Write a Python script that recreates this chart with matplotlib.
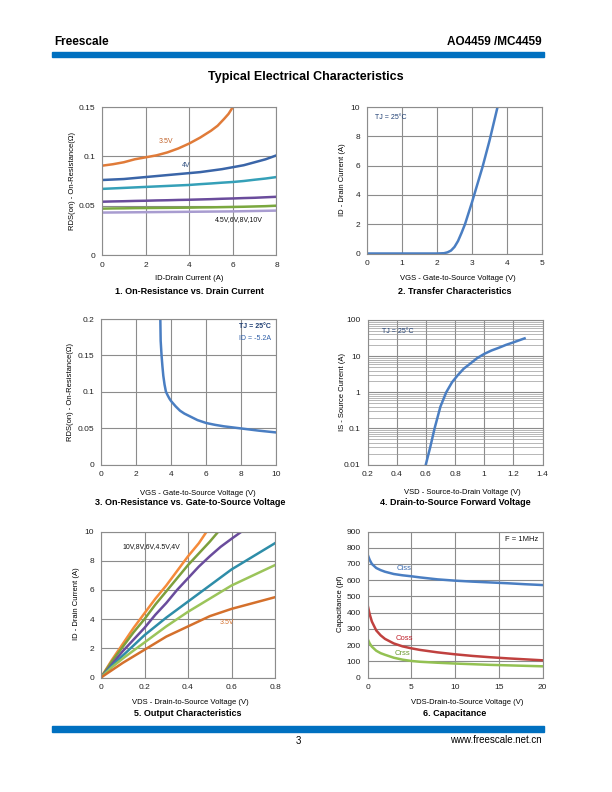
import matplotlib
matplotlib.use('Agg')
import matplotlib.pyplot as plt
from matplotlib.ticker import FuncFormatter, LogLocator, NullFormatter

plt.rcParams['font.family'] = ['Liberation Sans', 'DejaVu Sans']

W, H = 612, 792

# 1. On-resistance vs drain current
id_a = [0, 0.5, 1, 1.5, 2, 2.5, 3, 3.5, 4, 4.5, 5, 5.5, 6, 6.5, 7, 7.5, 8]
rds_35v_x = [0, 0.5, 1, 1.5, 2, 2.5, 3, 3.5, 4, 4.5, 5, 5.3, 5.6, 5.8, 6.0]
rds_35v = [0.0905, 0.092, 0.094, 0.097, 0.099, 0.101, 0.104, 0.108, 0.113, 0.119, 0.126,
           0.131, 0.138, 0.143, 0.150]
rds_4v = [0.076, 0.0765, 0.077, 0.078, 0.079, 0.080, 0.081, 0.082, 0.083, 0.084, 0.0855,
          0.087, 0.089, 0.091, 0.094, 0.097, 0.101]
rds_45v = [0.067, 0.0675, 0.068, 0.0685, 0.069, 0.0695, 0.070, 0.0705, 0.071, 0.0718, 0.0725,
           0.0733, 0.074, 0.075, 0.0763, 0.0775, 0.079]
rds_6v = [0.054, 0.0543, 0.0545, 0.0548, 0.055, 0.0553, 0.0555, 0.0558, 0.056, 0.0563, 0.0566,
          0.057, 0.0573, 0.0577, 0.058, 0.0585, 0.059]
rds_8v = [0.047, 0.0472, 0.0473, 0.0475, 0.0476, 0.0477, 0.0478, 0.0479, 0.048, 0.0482, 0.0483,
          0.0485, 0.0487, 0.0489, 0.0492, 0.0495, 0.050]
rds_10v = [0.043, 0.0431, 0.0432, 0.0433, 0.0434, 0.0435, 0.0436, 0.0437, 0.0438, 0.0439, 0.044,
           0.0441, 0.0442, 0.0444, 0.0446, 0.0448, 0.045]

# 2. Transfer characteristics
vgs_t = [0, 1, 2, 2.2, 2.3, 2.4, 2.5, 2.6, 2.7, 2.8, 2.9, 3.0, 3.1, 3.2, 3.3, 3.4, 3.5, 3.6, 3.73]
id_t = [0, 0, 0, 0.02, 0.08, 0.2, 0.45, 0.85, 1.4, 2.0, 2.75, 3.5, 4.3, 5.1, 5.9, 6.8, 7.7, 8.7, 10]

# 3. On-resistance vs gate-source voltage
vgs_r = [3.38, 3.4, 3.45, 3.5, 3.55, 3.62, 3.7, 3.8, 3.9, 4.0, 4.25, 4.5, 4.75, 5.0, 5.5, 6.0,
         6.5, 7.0, 8.0, 9.0, 10.0]
rds_r = [0.2, 0.17, 0.15, 0.135, 0.122, 0.11, 0.1, 0.095, 0.0905, 0.087, 0.08, 0.074, 0.070,
         0.067, 0.061, 0.057, 0.0545, 0.0525, 0.0495, 0.0465, 0.044]

# 4. Body diode forward voltage
vsd = [0.6, 0.63, 0.66, 0.7, 0.74, 0.78, 0.82, 0.86, 0.9, 0.95, 1.0, 1.05, 1.1, 1.15, 1.2, 1.277]
i_s = [0.01, 0.03, 0.1, 0.4, 1.0, 1.9, 3.0, 4.5, 6.0, 8.7, 11.5, 14.3, 17.0, 20.5, 24.0, 31.0]

# 5. Output characteristics
out_curves = [
    ('10V', [0, 0.05, 0.1, 0.15, 0.2, 0.25, 0.3, 0.35, 0.4, 0.45, 0.486],
     [0, 1.2, 2.3, 3.4, 4.4, 5.4, 6.3, 7.3, 8.3, 9.2, 10]),
    ('8V', [0, 0.05, 0.1, 0.15, 0.2, 0.25, 0.3, 0.35, 0.4, 0.45, 0.5, 0.54],
     [0, 1.1, 2.1, 3.1, 4.0, 5.0, 5.9, 6.8, 7.7, 8.5, 9.3, 10]),
    ('6V', [0, 0.05, 0.1, 0.15, 0.2, 0.25, 0.3, 0.35, 0.4, 0.45, 0.5, 0.55, 0.6, 0.647],
     [0, 0.9, 1.8, 2.6, 3.4, 4.3, 5.1, 6.0, 6.8, 7.6, 8.3, 8.95, 9.5, 10]),
    ('4.5V', [0, 0.05, 0.1, 0.15, 0.2, 0.25, 0.3, 0.35, 0.4, 0.45, 0.5, 0.55, 0.6, 0.65, 0.7, 0.75, 0.8],
     [0, 0.8, 1.5, 2.2, 2.9, 3.5, 4.1, 4.65, 5.2, 5.75, 6.3, 6.85, 7.4, 7.85, 8.3, 8.75, 9.2]),
    ('4V', [0, 0.05, 0.1, 0.15, 0.2, 0.25, 0.3, 0.35, 0.4, 0.45, 0.5, 0.55, 0.6, 0.65, 0.7, 0.75, 0.8],
     [0, 0.7, 1.3, 1.85, 2.4, 2.95, 3.5, 4.0, 4.5, 4.95, 5.4, 5.85, 6.3, 6.65, 7.0, 7.35, 7.7]),
    ('3.5V', [0, 0.05, 0.1, 0.15, 0.2, 0.25, 0.3, 0.35, 0.4, 0.45, 0.5, 0.55, 0.6, 0.65, 0.7, 0.75, 0.8],
     [0, 0.5, 1.0, 1.45, 1.9, 2.35, 2.8, 3.15, 3.5, 3.85, 4.2, 4.45, 4.7, 4.9, 5.1, 5.3, 5.5]),
]

# 6. Capacitance
vds_c = [0, 0.25, 0.5, 1, 1.5, 2, 3, 4, 5, 6, 8, 10, 12, 14, 16, 18, 20]
ciss = [760, 725, 700, 675, 662, 652, 638, 630, 624, 617, 605, 597, 591, 586, 581, 575, 570]
coss = [450, 390, 345, 290, 260, 238, 210, 192, 180, 170, 155, 143, 133, 125, 118, 112, 106]
crss = [240, 210, 190, 165, 150, 140, 122, 110, 102, 97, 91, 86, 82, 78, 75, 72, 69]

BLUE = '#4a7ec2'
NAVY = '#1f3f73'


def px_axes(fig, l, t, r, b):
    return fig.add_axes([l / W, 1 - b / H, (r - l) / W, (b - t) / H])


def style(ax):
    ax.grid(True, color='#8c8c8c', lw=0.8)
    ax.set_axisbelow(True)
    for s in ax.spines.values():
        s.set_color('#8c8c8c')
        s.set_linewidth(0.8)
    ax.tick_params(length=0, labelsize=6, pad=5, colors='#222222')


def ftext(fig, x, y, s, **kw):
    fig.text(x / W, 1 - y / H, s, ha='center', va='center', **kw)


fig = plt.figure(figsize=(W / 100, H / 100), dpi=100)

# header / footer
fig.patches.append(plt.Rectangle((52 / W, 1 - 56.5 / H), 492 / W, 5 / H,
                                 transform=fig.transFigure, color='#0070c0'))
fig.patches.append(plt.Rectangle((52 / W, 1 - 731.5 / H), 492 / W, 5.5 / H,
                                 transform=fig.transFigure, color='#0070c0'))
fig.text(54 / W, 1 - 42 / H, 'Freescale', fontsize=8.5, fontweight='bold', va='center')
fig.text(542 / W, 1 - 42 / H, 'AO4459 /MC4459', fontsize=8.5, fontweight='bold',
         va='center', ha='right')
ftext(fig, 306, 77, 'Typical Electrical Characteristics', fontsize=9, fontweight='bold')
ftext(fig, 298, 741, '3', fontsize=7)
fig.text(542 / W, 1 - 740 / H, 'www.freescale.net.cn', fontsize=7, va='center', ha='right')

# chart 1
ax = px_axes(fig, 102, 107, 276.5, 255)
style(ax)
ax.plot(rds_35v_x, rds_35v, color='#e07b39', lw=1.8)
ax.plot(id_a, rds_4v, color='#3a65a8', lw=1.8)
ax.plot(id_a, rds_45v, color='#35a0b8', lw=1.8)
ax.plot(id_a, rds_6v, color='#6a4c9c', lw=1.8)
ax.plot(id_a, rds_8v, color='#7aa83e', lw=1.8)
ax.plot(id_a, rds_10v, color='#a89cd0', lw=1.8)
ax.set_xlim(0, 8)
ax.set_ylim(0, 0.15)
ax.set_xticks([0, 2, 4, 6, 8])
ax.set_yticks([0, 0.05, 0.1, 0.15])
ax.yaxis.set_major_formatter(FuncFormatter(lambda v, p: '%g' % round(v, 3)))
ax.text(2.6, 0.1146, '3.5V', fontsize=5, color='#c0622a', va='center')
ax.text(3.65, 0.091, '4V', fontsize=5, color='#2f4f80', va='center')
ax.text(5.18, 0.0364, '4.5V,6V,8V,10V', fontsize=5, color='#111111', va='center')
ftext(fig, 72, 181, 'RDS(on) - On-Resistance(Ω)', fontsize=5.5, rotation=90)
ftext(fig, 189, 278, 'ID-Drain Current (A)', fontsize=5.5)
ftext(fig, 189, 291, '1. On-Resistance vs. Drain Current', fontsize=6.5, fontweight='bold')

# chart 2
ax = px_axes(fig, 367, 107, 542, 253.5)
style(ax)
ax.plot(vgs_t, id_t, color=BLUE, lw=1.8)
ax.set_xlim(0, 5)
ax.set_ylim(0, 10)
ax.set_xticks([0, 1, 2, 3, 4, 5])
ax.set_yticks([0, 2, 4, 6, 8, 10])
ax.text(0.24, 9.3, 'TJ = 25°C', fontsize=5, color=NAVY, va='center')
ftext(fig, 342, 180, 'ID - Drain Current (A)', fontsize=5.5, rotation=90)
ftext(fig, 458, 279, 'VGS - Gate-to-Source Voltage (V)', fontsize=5.5)
ftext(fig, 455, 291, '2. Transfer Characteristics', fontsize=6.5, fontweight='bold')

# chart 3
ax = px_axes(fig, 101, 319, 276.5, 464.5)
style(ax)
ax.plot(vgs_r, rds_r, color=BLUE, lw=1.8)
ax.set_xlim(0, 10)
ax.set_ylim(0, 0.2)
ax.set_xticks([0, 2, 4, 6, 8, 10])
ax.set_yticks([0, 0.05, 0.1, 0.15, 0.2])
ax.yaxis.set_major_formatter(FuncFormatter(lambda v, p: '%g' % round(v, 3)))
ax.text(9.7, 0.19, 'TJ = 25°C', fontsize=5, color=NAVY, va='center', ha='right',
        fontweight='bold')
ax.text(9.7, 0.173, 'ID = -5.2A', fontsize=5, color='#2f5fa8', va='center', ha='right')
ftext(fig, 70, 392, 'RDS(on) - On-Resistance(Ω)', fontsize=5.5, rotation=90)
ftext(fig, 198, 493, 'VGS - Gate-to-Source Voltage (V)', fontsize=5.5)
ftext(fig, 190, 503, '3. On-Resistance vs. Gate-to-Source Voltage', fontsize=6.5,
      fontweight='bold')

# chart 4
ax = px_axes(fig, 367.5, 320, 542.5, 464.5)
style(ax)
ax.set_yscale('log')
ax.plot(vsd, i_s, color=BLUE, lw=1.8)
ax.set_xlim(0.2, 1.4)
ax.set_ylim(0.01, 100)
ax.set_xticks([0.2, 0.4, 0.6, 0.8, 1.0, 1.2, 1.4])
ax.xaxis.set_major_formatter(FuncFormatter(lambda v, p: '%g' % round(v, 2)))
ax.yaxis.set_major_locator(LogLocator(base=10, numticks=10))
ax.yaxis.set_minor_locator(LogLocator(base=10, subs=range(2, 10), numticks=10))
ax.yaxis.set_minor_formatter(NullFormatter())
ax.yaxis.set_major_formatter(FuncFormatter(lambda v, p: '%g' % v))
ax.grid(True, which='minor', axis='y', color='#9a9a9a', lw=0.5)
ax.tick_params(which='minor', length=0)
ax.text(0.3, 47, 'TJ = 25°C', fontsize=5, color=NAVY, va='center')
ftext(fig, 342, 392, 'IS - Source Current (A)', fontsize=5.5, rotation=90)
ftext(fig, 462, 492, 'VSD - Source-to-Drain Voltage (V)', fontsize=5.5)
ftext(fig, 455, 503, '4. Drain-to-Source Forward Voltage', fontsize=6.5, fontweight='bold')

# chart 5
ax = px_axes(fig, 101, 531.5, 275, 677.5)
style(ax)
out_colors = ['#f58a3a', '#7d9f3c', '#6a4c9c', '#2e8da8', '#9bc45a', '#d4702c']
for (name, xs, ys), c in zip(out_curves, out_colors):
    ax.plot(xs, ys, color=c, lw=1.8)
ax.set_xlim(0, 0.8)
ax.set_ylim(0, 10)
ax.set_xticks([0, 0.2, 0.4, 0.6, 0.8])
ax.set_yticks([0, 2, 4, 6, 8, 10])
ax.xaxis.set_major_formatter(FuncFormatter(lambda v, p: '%g' % round(v, 2)))
ax.text(0.1, 8.97, '10V,8V,6V,4.5V,4V', fontsize=5, color='#111111', va='center')
ax.text(0.547, 3.8, '3.5V', fontsize=5, color='#d4702c', va='center')
ftext(fig, 77, 604, 'ID - Drain Current (A)', fontsize=5.5, rotation=90)
ftext(fig, 190, 703, 'VDS - Drain-to-Source Voltage (V)', fontsize=5.5)
ftext(fig, 188, 714, '5. Output Characteristics', fontsize=6.5, fontweight='bold')

# chart 6
ax = px_axes(fig, 367.5, 531.5, 542.5, 677.5)
style(ax)
ax.plot(vds_c, ciss, color=BLUE, lw=1.8)
ax.plot(vds_c, coss, color='#c0413f', lw=1.8)
ax.plot(vds_c, crss, color='#93c152', lw=1.8)
ax.set_xlim(0, 20)
ax.set_ylim(0, 900)
ax.set_xticks([0, 5, 10, 15, 20])
ax.set_yticks(range(0, 901, 100))
ax.text(3.3, 670, 'Ciss', fontsize=5.5, color='#3a6ab0', va='center')
ax.text(3.2, 242, 'Coss', fontsize=5.5, color='#c0202a', va='center')
ax.text(3.1, 150, 'Crss', fontsize=5.5, color='#6a9a30', va='center')
ax.text(19.5, 849, 'F = 1MHz', fontsize=5.5, color='#111111', va='center', ha='right')
ftext(fig, 340, 604, 'Capacitance (pf)', fontsize=5.5, rotation=90)
ftext(fig, 467, 703, 'VDS-Drain-to-Source Voltage (V)', fontsize=5.5)
ftext(fig, 455, 714, '6. Capacitance', fontsize=6.5, fontweight='bold')

fig.savefig('out.png', dpi=100)
